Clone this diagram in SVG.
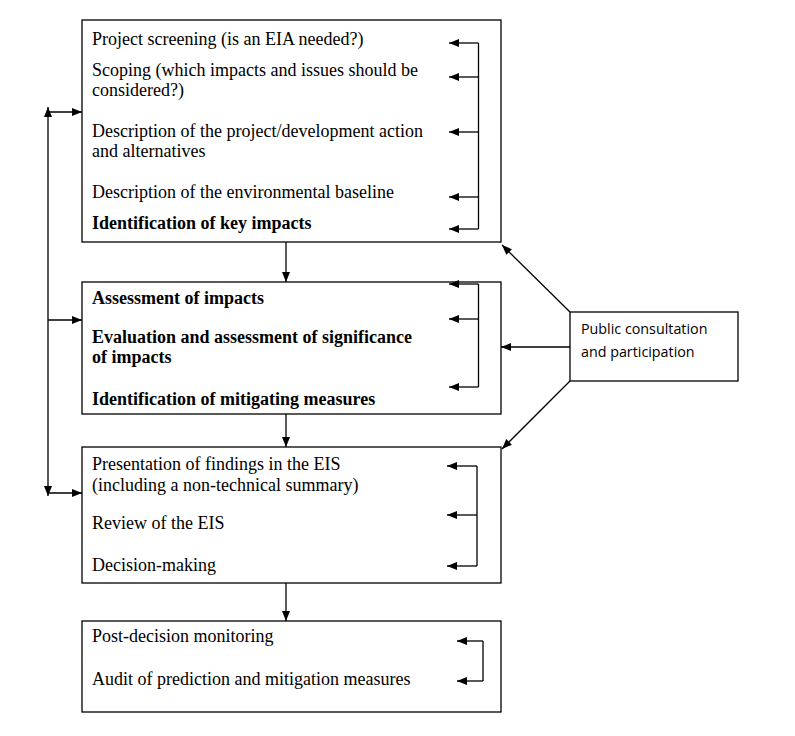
<svg xmlns="http://www.w3.org/2000/svg" width="795" height="736" viewBox="0 0 795 736">
<defs>
<marker id="ah" viewBox="0 0 10 10" refX="10" refY="5" markerWidth="10" markerHeight="10" markerUnits="userSpaceOnUse" orient="auto">
<path d="M0,1 L10,5 L0,9 Z" fill="#000"/>
</marker>
</defs>
<style>
.box{fill:#fff;stroke:#000;stroke-width:1.3}
.t{font-family:"Liberation Serif","Times New Roman",serif;font-size:18px;fill:#000}
.b{font-weight:bold}
.s{font-family:"Open Sans","Liberation Sans",sans-serif;font-size:14.3px;fill:#000}
.c{fill:none;stroke:#000;stroke-width:1.3}
.a{fill:none;stroke:#000;stroke-width:1.3;marker-end:url(#ah)}
</style>
<rect width="795" height="736" fill="#fff"/>
<g id="box1">
<rect class="box" x="82" y="20" width="419" height="222"/>
<text class="t" x="92" y="45">Project screening (is an EIA needed?)</text>
<text class="t" x="92" y="76">Scoping (which impacts and issues should be</text>
<text class="t" x="92" y="96">considered?)</text>
<text class="t" x="92" y="137">Description of the project/development action</text>
<text class="t" x="92" y="157">and alternatives</text>
<text class="t" x="92" y="198">Description of the environmental baseline</text>
<text class="t b" x="92" y="229">Identification of key impacts</text>
</g>
<g id="box2">
<rect class="box" x="82" y="282" width="419" height="132"/>
<text class="t b" x="92" y="304">Assessment of impacts</text>
<text class="t b" x="92" y="343">Evaluation and assessment of significance</text>
<text class="t b" x="92" y="363">of impacts</text>
<text class="t b" x="92" y="405">Identification of mitigating measures</text>
</g>
<g id="box3">
<rect class="box" x="82" y="447" width="419" height="136"/>
<text class="t" x="92" y="470">Presentation of findings in the EIS</text>
<text class="t" x="92" y="491">(including a non-technical summary)</text>
<text class="t" x="92" y="529">Review of the EIS</text>
<text class="t" x="92" y="571">Decision-making</text>
</g>
<g id="box4">
<rect class="box" x="82" y="621" width="419" height="91"/>
<text class="t" x="92" y="642">Post-decision monitoring</text>
<text class="t" x="92" y="685">Audit of prediction and mitigation measures</text>
</g>
<g id="public">
<rect class="box" x="570" y="312" width="168" height="69"/>
<text class="s" x="581" y="334">Public consultation</text>
<text class="s" x="581" y="357">and participation</text>
</g>
<g id="connectors">
<path class="c" d="M478.5,43 V229"/>
<path class="a" d="M478.5,43 H449"/>
<path class="a" d="M478.5,77 H449"/>
<path class="a" d="M478.5,132 H449"/>
<path class="a" d="M478.5,197 H449"/>
<path class="a" d="M478.5,229 H449"/>
<path class="c" d="M478.5,284 V387"/>
<path class="a" d="M478.5,284 H449"/>
<path class="a" d="M478.5,319 H449"/>
<path class="a" d="M478.5,387 H449"/>
<path class="c" d="M477,466 V566"/>
<path class="a" d="M477,466 H447"/>
<path class="a" d="M477,515 H447"/>
<path class="a" d="M477,566 H447"/>
<path class="c" d="M483,641 V681"/>
<path class="a" d="M483,641 H457"/>
<path class="a" d="M483,681 H457"/>
<path class="a" d="M286,242 V282"/>
<path class="a" d="M286,414 V447"/>
<path class="a" d="M286,583 V621"/>
<path class="a" d="M570,347 H501"/>
<path class="a" d="M570,312 L502,245"/>
<path class="a" d="M570,381 L502,449"/>
<path class="a" d="M48,300 V107"/>
<path class="a" d="M48,300 V496"/>
<path class="a" d="M48,112 H82"/>
<path class="a" d="M48,320 H82"/>
<path class="a" d="M48,493 H82"/>
</g>
</svg>
